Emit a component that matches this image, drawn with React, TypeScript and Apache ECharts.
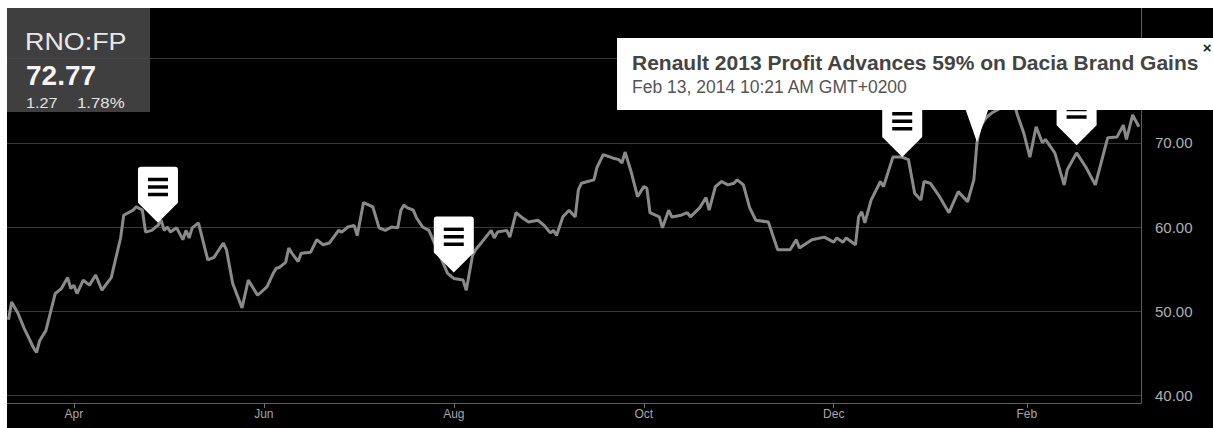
import React, { useEffect, useRef } from 'react';
import * as echarts from 'echarts';

const dates = [
  '2013-03-11','2013-03-12','2013-03-14','2013-03-16','2013-03-19','2013-03-20','2013-03-21','2013-03-23','2013-03-26','2013-03-28',
  '2013-03-30','2013-03-31','2013-04-01','2013-04-02','2013-04-04','2013-04-06','2013-04-08','2013-04-10','2013-04-13','2013-04-16',
  '2013-04-17','2013-04-20','2013-04-21','2013-04-23','2013-04-24','2013-04-26','2013-04-28','2013-04-29','2013-04-30','2013-05-01',
  '2013-05-02','2013-05-04','2013-05-06','2013-05-07','2013-05-08','2013-05-09','2013-05-11','2013-05-14','2013-05-16','2013-05-19',
  '2013-05-20','2013-05-22','2013-05-25','2013-05-27','2013-05-28','2013-05-30','2013-06-02','2013-06-04','2013-06-05','2013-06-06',
  '2013-06-08','2013-06-09','2013-06-10','2013-06-12','2013-06-13','2013-06-16','2013-06-18','2013-06-20','2013-06-22','2013-06-25',
  '2013-06-26','2013-06-28','2013-06-30','2013-07-01','2013-07-03','2013-07-06','2013-07-08','2013-07-10','2013-07-12','2013-07-14',
  '2013-07-15','2013-07-16','2013-07-17','2013-07-19','2013-07-20','2013-07-22','2013-07-24','2013-07-30','2013-08-01','2013-08-04',
  '2013-08-05','2013-08-07','2013-08-08','2013-08-10','2013-08-13','2013-08-14','2013-08-15','2013-08-18','2013-08-19','2013-08-21',
  '2013-08-23','2013-08-25','2013-08-28','2013-08-30','2013-09-01','2013-09-02','2013-09-03','2013-09-05','2013-09-07','2013-09-09',
  '2013-09-10','2013-09-11','2013-09-13','2013-09-15','2013-09-16','2013-09-18','2013-09-21','2013-09-23','2013-09-24','2013-09-25',
  '2013-09-27','2013-09-29','2013-10-01','2013-10-02','2013-10-03','2013-10-06','2013-10-07','2013-10-09','2013-10-10','2013-10-13',
  '2013-10-15','2013-10-16','2013-10-19','2013-10-21','2013-10-22','2013-10-24','2013-10-26','2013-10-28','2013-10-30','2013-10-31',
  '2013-11-02','2013-11-04','2013-11-06','2013-11-10','2013-11-13','2013-11-17','2013-11-19','2013-11-20','2013-11-24','2013-11-28',
  '2013-12-01','2013-12-02','2013-12-04','2013-12-05','2013-12-08','2013-12-09','2013-12-10','2013-12-11','2013-12-13','2013-12-16',
  '2013-12-17','2013-12-20','2013-12-23','2013-12-25','2013-12-27','2013-12-29','2013-12-30','2014-01-01','2014-01-04','2014-01-07',
  '2014-01-10','2014-01-13','2014-01-15','2014-01-16','2014-01-17','2014-01-19','2014-01-21','2014-01-23','2014-01-26','2014-01-28',
  '2014-01-29','2014-01-31','2014-02-02','2014-02-04','2014-02-06','2014-02-07','2014-02-10','2014-02-13','2014-02-14','2014-02-17',
  '2014-02-20','2014-02-23','2014-02-27','2014-03-02','2014-03-04','2014-03-05','2014-03-07','2014-03-09'
];

const prices = [
  49.0, 51.1, 49.8, 48.0, 45.7, 45.1, 46.5, 47.7, 52.1, 52.7,
  54.0, 52.7, 53.1, 52.1, 53.7, 53.1, 54.3, 52.5, 54.0, 58.7,
  61.4, 62.0, 62.4, 62.0, 59.4, 59.6, 60.2, 60.8, 59.6, 60.0,
  59.4, 59.9, 58.5, 59.6, 58.7, 59.9, 60.5, 56.1, 56.4, 58.1,
  57.3, 53.3, 50.4, 53.7, 53.1, 51.9, 52.9, 54.5, 55.1, 55.2,
  55.8, 57.5, 56.9, 55.9, 56.9, 57.0, 58.5, 57.9, 58.1, 59.6,
  59.4, 60.0, 60.2, 59.0, 62.9, 62.4, 59.9, 59.6, 60.0, 59.9,
  62.0, 62.6, 62.3, 62.0, 61.1, 60.0, 59.6, 54.5, 53.9, 53.7,
  52.5, 56.6, 57.3, 58.2, 59.6, 58.7, 59.4, 59.6, 58.8, 61.7,
  61.1, 60.6, 60.8, 60.2, 59.3, 59.6, 59.0, 61.2, 62.0, 61.2,
  64.4, 65.2, 65.4, 65.6, 67.1, 68.6, 68.2, 68.0, 67.6, 68.9,
  66.5, 63.6, 64.8, 64.6, 61.7, 61.2, 59.9, 62.0, 61.2, 61.4,
  61.7, 61.2, 62.3, 63.5, 62.0, 64.8, 65.4, 65.0, 65.2, 65.6,
  65.0, 62.3, 60.8, 60.6, 57.3, 57.3, 58.5, 57.5, 58.5, 58.8,
  58.2, 58.7, 58.2, 58.7, 57.9, 61.2, 61.8, 60.5, 63.2, 65.4,
  64.8, 68.3, 68.3, 68.0, 64.0, 63.2, 65.4, 65.2, 63.6, 61.7,
  64.2, 63.0, 65.6, 70.0, 71.9, 73.0, 73.6, 74.0, 75.0, 74.6,
  73.3, 71.2, 68.3, 71.9, 70.0, 70.4, 68.8, 65.0, 66.8, 68.8,
  67.1, 65.0, 70.6, 70.7, 72.1, 70.4, 73.3, 71.9
];

const tickDates = ['2013-04-01', '2013-06-01', '2013-08-01', '2013-10-01', '2013-12-01', '2014-02-01'];
const tickLabels = ['Apr', 'Jun', 'Aug', 'Oct', 'Dec', 'Feb'];
const hiddenPriceLabels = [80];

const eventDates = ['2013-04-28', '2013-08-01', '2013-12-23', '2014-02-17'];
const eventValues = [60.5, 54.6, 68.3, 69.7];

const calloutDate = '2014-01-16';
const calloutValue = 70.1;

const ticker = 'RNO:FP';
const lastPrice = '72.77';
const change = '1.27';
const changePct = '1.78%';
const newsTitle = 'Renault 2013 Profit Advances 59% on Dacia Brand Gains';
const newsTime = 'Feb 13, 2014 10:21 AM GMT+0200';

const ts = (s: string) => {
  const [y, m, d] = s.split('-').map(Number);
  return Date.UTC(y, m - 1, d);
};
const HOUR = 3600 * 1000;

const markerPath =
  'path://M3,0 H37 Q40,0 40,3 V36 L20,56 L0,36 V3 Q0,0 3,0 Z ' +
  'M10,11 V14.5 H30 V11 Z M10,18.5 V22 H30 V18.5 Z M10,26 V29.5 H30 V26 Z';
const calloutPath = 'path://M0,0 H28 L14,40 Z';

export default function App() {
  const ref = useRef<HTMLDivElement>(null);
  useEffect(() => {
    if (!ref.current) return;
    const chart = echarts.init(ref.current, undefined, { renderer: 'svg' });
    const tickTs = tickDates.map(ts);
    const font = 'Arial, "Liberation Sans", Helvetica, sans-serif';
    const markData: any[] = eventDates.map((d, i) => ({
      coord: [ts(d), eventValues[i]],
      symbol: markerPath,
      symbolSize: [40, 56],
    }));
    markData.push({
      coord: [ts(calloutDate), calloutValue],
      symbol: calloutPath,
      symbolSize: [28, 40],
    });
    chart.setOption({
      animation: false,
      backgroundColor: '#000',
      grid: { left: 0, right: 72, top: 0, bottom: 25, containLabel: false },
      xAxis: {
        type: 'value',
        min: ts('2013-03-10') + 12.5 * HOUR,
        max: ts('2014-03-09') + 16.3 * HOUR,
        axisLine: { show: true, onZero: false, lineStyle: { color: '#5e5e5e', width: 1 } },
        axisTick: { show: true, customValues: tickTs, length: 5, lineStyle: { color: '#707070' } },
        axisLabel: {
          customValues: tickTs,
          color: '#a6a6a6',
          fontSize: 12,
          fontFamily: font,
          margin: 5,
          formatter: (v: number) => {
            const i = tickTs.indexOf(v);
            return i >= 0 ? tickLabels[i] : '';
          },
        },
        splitLine: { show: false },
      },
      yAxis: {
        type: 'value',
        position: 'right',
        min: 39.11,
        max: 86.0,
        splitNumber: 5,
        axisLine: { show: true, lineStyle: { color: '#5e5e5e', width: 1 } },
        axisTick: { show: false },
        axisLabel: {
          showMinLabel: false,
          showMaxLabel: false,
          color: '#b0b0b0',
          fontSize: 15,
          fontFamily: font,
          margin: 14,
          padding: [6, 0, 0, 0],
          formatter: (v: number) => (hiddenPriceLabels.includes(Math.round(v)) ? '' : v.toFixed(2)),
        },
        splitLine: { show: true, showMinLine: false, showMaxLine: false, lineStyle: { color: '#383838', width: 1 } },
      },
      series: [
        {
          type: 'line',
          data: dates.map((d, i) => [ts(d), prices[i]]),
          showSymbol: false,
          symbol: 'none',
          lineStyle: { color: '#8a8a8a', width: 3 },
          z: 2,
          markPoint: {
            symbolOffset: [0, '-50%'],
            silent: true,
            itemStyle: { color: '#ffffff' },
            label: { show: false },
            data: markData,
          },
        },
      ],
      graphic: [
        { type: 'rect', z: 100, shape: { x: 0, y: 0, width: 143, height: 104 }, style: { fill: 'rgba(72,72,72,0.88)' } },
        { type: 'text', z: 101, x: 18, y: 33.5, scaleX: 1.12, style: { text: ticker, fill: '#e8e8e8', font: `normal 24px ${font}`, verticalAlign: 'middle' } },
        { type: 'text', z: 101, x: 19, y: 67, style: { text: lastPrice, fill: '#f4f4f4', font: `bold 28px ${font}`, verticalAlign: 'middle' } },
        { type: 'text', z: 101, x: 19, y: 94.5, scaleX: 1.08, style: { text: change, fill: '#e2e2e2', font: `normal 15px ${font}`, verticalAlign: 'middle' } },
        { type: 'text', z: 101, x: 70, y: 94.5, scaleX: 1.12, style: { text: changePct, fill: '#e2e2e2', font: `normal 15px ${font}`, verticalAlign: 'middle' } },
        { type: 'rect', z: 100, shape: { x: 610, y: 30, width: 596, height: 72 }, style: { fill: '#ffffff' } },
        { type: 'text', z: 101, x: 625, y: 54, style: { text: newsTitle, fill: '#444444', font: `bold 21px ${font}`, verticalAlign: 'middle' } },
        { type: 'text', z: 101, x: 625, y: 78.5, style: { text: newsTime, fill: '#555555', font: `normal 17.5px ${font}`, verticalAlign: 'middle' } },
        { type: 'text', z: 101, x: 1200, y: 39, style: { text: '×', fill: '#222222', font: `bold 15px ${font}`, align: 'center', verticalAlign: 'middle' } },
      ],
    });
    return () => chart.dispose();
  }, []);
  return (
    <div
      ref={ref}
      style={{ position: 'absolute', left: 7, top: 8, width: 1206, height: 420 }}
    />
  );
}
